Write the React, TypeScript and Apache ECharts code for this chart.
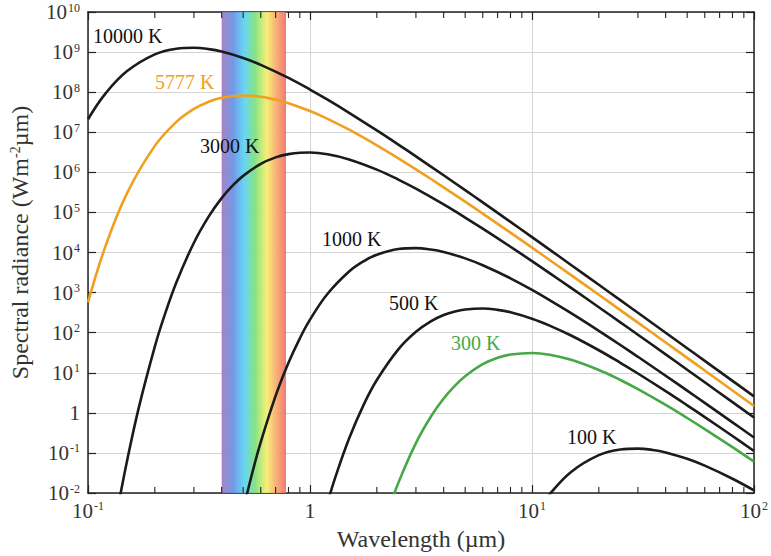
import React, { useEffect, useRef } from "react";
import * as echarts from "echarts";

// Spectral exitance (wavelength µm, W m^-2 µm^-1)
const curve10000: [number, number][] = [
  [0.1, 2.11e7], [0.12, 9.33e7], [0.15, 3.36e8], [0.2, 8.79e8], [0.25, 1.217e9], [0.3, 1.283e9],
  [0.35, 1.187e9], [0.4, 1.03e9], [0.5, 7.14e8], [0.6, 4.81e8], [0.8, 2.27e8], [1, 1.164e8],
  [1.2, 6.49e7], [1.5, 3.06e7], [2, 1.11e7], [2.5, 4.93e6], [3, 2.5e6], [4, 8.44e5], [5, 3.59e5],
  [6, 1.776e5], [8, 5.8e4], [10, 2.42e4], [12, 1.18e4], [15, 4.89e3], [20, 1.57e3], [25, 647],
  [30, 313], [40, 99.8], [50, 41.0], [60, 19.8], [80, 6.29], [100, 2.58],
];
const curve5777: [number, number][] = [
  [0.1, 571], [0.12, 1.46e4], [0.15, 3.04e5], [0.2, 4.57e6], [0.25, 1.81e7], [0.3, 3.82e7],
  [0.35, 5.79e7], [0.4, 7.24e7], [0.5, 8.28e7], [0.6, 7.7e7], [0.7, 6.53e7], [0.8, 5.31e7],
  [1, 3.38e7], [1.2, 2.16e7], [1.5, 1.156e7], [2, 4.73e6], [2.5, 2.24e6], [3, 1.19e6], [4, 4.23e5],
  [5, 1.855e5], [6, 9.35e4], [8, 3.13e4], [10, 1.323e4], [12, 6.52e3], [15, 2.73e3], [20, 882],
  [25, 366], [30, 178], [40, 56.9], [50, 23.5], [60, 11.4], [80, 3.61], [100, 1.48],
];
const curve3000: [number, number][] = [
  [0.13, 9.6e-4], [0.14, 9.2e-3], [0.15, 0.0641], [0.17, 1.47], [0.2, 45.0], [0.22, 247],
  [0.25, 1786], [0.3, 1.756e4], [0.35, 7.97e4], [0.4, 2.27e5], [0.45, 4.77e5], [0.5, 8.17e5],
  [0.6, 1.626e6], [0.7, 2.36e6], [0.8, 2.85e6], [0.9, 3.09e6], [1, 3.12e6], [1.2, 2.82e6],
  [1.5, 2.1e6], [2, 1.169e6], [2.5, 6.59e5], [3, 3.9e5], [4, 1.577e5], [5, 7.44e4], [6, 3.93e4],
  [8, 1.39e4], [10, 6.08e3], [12, 3.06e3], [15, 1.308e3], [20, 432], [25, 181], [30, 88.8],
  [40, 28.7], [50, 11.9], [60, 5.78], [80, 1.85], [100, 0.762],
];
const curve1000: [number, number][] = [
  [0.5, 3.8e-3], [0.55, 0.0324], [0.6, 0.185], [0.7, 2.64], [0.8, 17.7], [0.9, 72.3], [1, 211],
  [1.2, 933], [1.5, 3.36e3], [1.75, 6.13e3], [2, 8.79e3], [2.5, 1.217e4], [3, 1.283e4],
  [3.5, 1.187e4], [4, 1.03e4], [5, 7.14e3], [6, 4.81e3], [8, 2.27e3], [10, 1.164e3], [12, 649],
  [15, 306], [20, 111], [25, 49.3], [30, 25.0], [40, 8.44], [50, 3.59], [60, 1.776], [80, 0.58],
  [100, 0.242],
];
const curve500: [number, number][] = [
  [1.2, 5.8e-3], [1.3, 0.0246], [1.5, 0.23], [1.75, 1.65], [2, 6.6], [2.5, 38.4], [3, 105],
  [3.5, 191.5], [4, 275], [4.5, 339], [5, 380], [6, 401], [7, 371], [8, 322], [10, 223], [12, 150],
  [15, 84.8], [20, 36.4], [25, 17.7], [30, 9.57], [40, 3.47], [50, 1.54], [60, 0.782], [80, 0.264],
  [100, 0.112],
];
const curve300: [number, number][] = [
  [2.2, 2.5e-3], [2.5, 0.0179], [3, 0.176], [3.5, 0.797], [4, 2.27], [4.5, 4.77], [5, 8.17],
  [6, 16.3], [7, 23.6], [8, 28.5], [10, 31.2], [12, 28.2], [15, 21.0], [20, 11.7], [25, 6.6],
  [30, 3.9], [40, 1.577], [50, 0.744], [60, 0.393], [80, 0.139], [100, 0.0608],
];
const curve100: [number, number][] = [
  [10, 2.1e-3], [11, 4.85e-3], [12, 9.3e-3], [15, 0.0336], [20, 0.0879], [25, 0.1217],
  [30, 0.1283], [35, 0.1187], [40, 0.103], [50, 0.0714], [60, 0.0481], [80, 0.0227], [100, 0.0116],
];

const curveNames = ["10000 K", "5777 K", "3000 K", "1000 K", "500 K", "300 K", "100 K"];
const curves = [curve10000, curve5777, curve3000, curve1000, curve500, curve300, curve100];

// Visible band (µm)
const visibleBand: [number, number] = [0.4, 0.78];

// Axis ranges
const X_MIN = 0.1;
const X_MAX = 100;
const Y_MIN = 0.01;
const Y_MAX = 1e10;

// Minor tick positions on the wavelength axis
const minorTicks = [
  0.2, 0.3, 0.4, 0.5, 0.6, 0.7, 0.8, 0.9,
  2, 3, 4, 5, 6, 7, 8, 9,
  20, 30, 40, 50, 60, 70, 80, 90,
];

const FONT = "'Liberation Serif', 'Times New Roman', Times, serif";
const BLACK = "#1b1b1b";
const ORANGE = "#f0a01e";
const GREEN = "#46a846";
const curveColors = [BLACK, ORANGE, BLACK, BLACK, BLACK, GREEN, BLACK];

// label positions (pixels)
const labelPos: [number, number][] = [
  [93, 26], [155, 72], [200, 136], [322, 229], [389, 293], [451, 333], [567, 427],
];

function powLabel(v: number): string {
  const e = Math.round(Math.log10(v));
  if (e === 0) return "1";
  return `10{s|${e}}`;
}

export default function App() {
  const ref = useRef<HTMLDivElement>(null);
  useEffect(() => {
    if (!ref.current) return;
    const chart = echarts.init(ref.current, null, { renderer: "svg" });

    const tickLabel = {
      fontFamily: FONT,
      fontSize: 21,
      color: "#333",
      formatter: powLabel,
      rich: {
        s: { fontFamily: FONT, fontSize: 12, color: "#333", verticalAlign: "top", padding: [0, 0, 0, 1] },
      },
    };

    const lineSeries = curves.map((data, i) => ({
      name: curveNames[i],
      type: "line",
      data,
      smooth: 0.4,
      symbol: "none",
      clip: true,
      z: 3,
      lineStyle: { color: curveColors[i], width: 2.6 },
      itemStyle: { color: curveColors[i] },
    }));

    const option: any = {
      animation: false,
      grid: { left: 86, right: 11, top: 12, bottom: 63, containLabel: false },
      xAxis: [
        {
          type: "log",
          logBase: 10,
          min: X_MIN,
          max: X_MAX,
          interval: 1,
          splitNumber: 3,
          position: "bottom",
          name: "Wavelength (µm)",
          nameLocation: "middle",
          nameGap: 34,
          nameTextStyle: { fontFamily: FONT, fontSize: 24, color: "#333" },
          axisLine: { lineStyle: { color: "#222", width: 1.5 } },
          axisTick: { inside: true, length: 8, lineStyle: { color: "#222", width: 1.2 } },
          splitLine: { show: true, lineStyle: { color: "#d4d4d4", width: 1 } },
          axisLabel: { ...tickLabel, margin: 7 },
        },
        {
          type: "log",
          logBase: 10,
          min: X_MIN,
          max: X_MAX,
          interval: 1,
          splitNumber: 3,
          position: "top",
          axisLine: { lineStyle: { color: "#222", width: 1.5 } },
          axisTick: { inside: true, length: 8, lineStyle: { color: "#222", width: 1.2 } },
          splitLine: { show: false },
          axisLabel: { show: false },
        },
      ],
      yAxis: [
        {
          type: "log",
          logBase: 10,
          min: Y_MIN,
          max: Y_MAX,
          interval: 1,
          splitNumber: 12,
          position: "left",
          name: "Spectral radiance (Wm{s|-2}µm)",
          nameLocation: "middle",
          nameGap: 56,
          nameTextStyle: {
            fontFamily: FONT,
            fontSize: 24,
            color: "#333",
            padding: [0, 0, 0, 20],
            rich: { s: { fontFamily: FONT, fontSize: 14, color: "#333", verticalAlign: "top" } },
          },
          axisLine: { lineStyle: { color: "#222", width: 1.5 } },
          axisTick: { inside: true, length: 8, lineStyle: { color: "#222", width: 1.2 } },
          splitLine: { show: true, lineStyle: { color: "#d4d4d4", width: 1 } },
          axisLabel: { ...tickLabel, margin: 8 },
        },
        {
          type: "log",
          logBase: 10,
          min: Y_MIN,
          max: Y_MAX,
          interval: 1,
          splitNumber: 12,
          position: "right",
          axisLine: { lineStyle: { color: "#222", width: 1.5 } },
          axisTick: { inside: true, length: 8, lineStyle: { color: "#222", width: 1.2 } },
          splitLine: { show: false },
          axisLabel: { show: false },
        },
      ],
      graphic: curveNames.map((t, i) => ({
        type: "text",
        left: labelPos[i][0],
        top: labelPos[i][1],
        z: 10,
        style: { text: t, fontFamily: FONT, fontSize: 20, fill: curveColors[i] === BLACK ? "#111" : curveColors[i] },
      })),
      series: [
        {
          name: "visible",
          type: "line",
          data: [],
          z: 1,
          silent: true,
          markArea: {
            silent: true,
            itemStyle: {
              color: new echarts.graphic.LinearGradient(0, 0, 1, 0, [
                { offset: 0, color: "rgba(160,120,190,0.92)" },
                { offset: 0.18, color: "rgba(100,145,230,0.92)" },
                { offset: 0.35, color: "rgba(90,210,245,0.92)" },
                { offset: 0.52, color: "rgba(125,225,120,0.92)" },
                { offset: 0.7, color: "rgba(246,238,110,0.92)" },
                { offset: 0.86, color: "rgba(248,165,105,0.92)" },
                { offset: 1, color: "rgba(238,110,110,0.92)" },
              ]),
            },
            data: [[{ xAxis: visibleBand[0] }, { xAxis: visibleBand[1] }]],
          },
        },
        {
          name: "minorTicks",
          type: "custom",
          silent: true,
          z: 4,
          data: minorTicks.map((v) => [v, Y_MIN]),
          encode: { x: 0, y: 1 },
          renderItem: (params: any, api: any) => {
            const x = api.value(0);
            const pb = api.coord([x, Y_MIN]);
            const pt = api.coord([x, Y_MAX]);
            return {
              type: "group",
              children: [
                { type: "line", shape: { x1: pb[0], y1: pb[1], x2: pb[0], y2: pb[1] - 6 }, style: { stroke: "#222", lineWidth: 1.1 } },
                { type: "line", shape: { x1: pt[0], y1: pt[1], x2: pt[0], y2: pt[1] + 6 }, style: { stroke: "#222", lineWidth: 1.1 } },
              ],
            };
          },
        },
        ...lineSeries,
      ],
    };
    chart.setOption(option);
    return () => chart.dispose();
  }, []);

  return (
    <div
      ref={ref}
      style={{ position: "fixed", left: 0, top: 0, width: 771, height: 556, background: "#fff" }}
    />
  );
}
